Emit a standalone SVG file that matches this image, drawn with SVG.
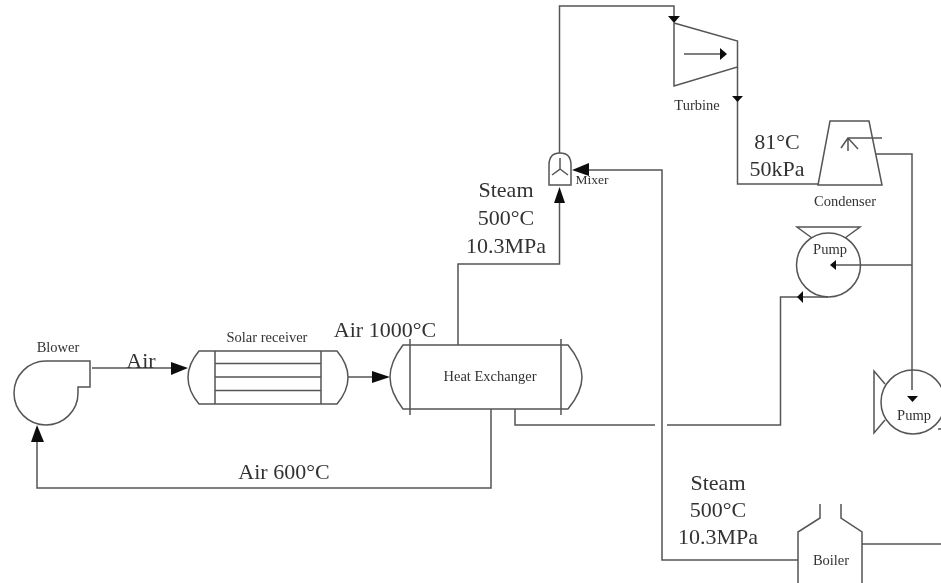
<svg xmlns="http://www.w3.org/2000/svg" width="941" height="583" viewBox="0 0 941 583">
<defs>
<style>
.s{fill:none;stroke:#555;stroke-width:1.5}
.c{fill:none;stroke:#555;stroke-width:1.5}
.t{font-family:"Liberation Serif","Times New Roman",serif;fill:#333}
.b{font-size:22px}
.m{font-size:14.500px}
.a{fill:#111;stroke:none}
</style>
<filter id="soft" x="0" y="0" width="941" height="583" filterUnits="userSpaceOnUse"><feGaussianBlur stdDeviation="0.6"/></filter>
</defs>
<rect width="941" height="583" fill="#fff"/>
<g filter="url(#soft)">
<g id="connectors">
<path class="c" d="M92 368H176"/>
<path class="a" d="M188 368L171 362V375Z"/>
<path class="c" d="M348 377H378"/>
<path class="a" d="M390 377L372 371V383Z"/>
<path class="c" d="M491 409V488H37V438"/>
<path class="a" d="M37 425L31 442H44Z"/>
<path class="c" d="M458 345V264H559.500V200"/>
<path class="a" d="M559.500 187L554 203H565Z"/>
<path class="c" d="M559.500 153V6H674V18"/>
<path class="a" d="M674 23L668 16H680Z"/>
<path class="c" d="M737.500 67V184H818"/>
<path class="a" d="M737.500 102L732 96H743Z"/>
<path class="c" d="M876 154H912V390"/>
<path class="a" d="M912.500 402L907 396H918Z"/>
<path class="c" d="M912 265H836"/>
<path class="a" d="M830 265L836 260V270Z"/>
<path class="c" d="M515 409V425H655M667 425H780.500V297H828"/>
<path class="a" d="M797 297L803 291V303Z"/>
<path class="c" d="M798 560H662V170H585"/>
<path class="a" d="M572 170L589 163V176Z"/>
<path class="c" d="M862 544H941"/>
<path class="c" d="M938 429H941"/>
</g>
<g id="blower">
<path class="s" d="M90 361H46A32 32 0 1 0 78 393V387H90Z"/>
<text class="t m" x="58" y="352" text-anchor="middle">Blower</text>
</g>
<g id="solar-receiver">
<path class="s" d="M199 351H337Q348 364 348 377.500Q348 391 337 404H199Q188 391 188 377.500Q188 364 199 351Z"/>
<path class="s" d="M215 351V404M321 351V404M215 363.500H321M215 377H321M215 390.500H321"/>
<text class="t m" x="267" y="342" text-anchor="middle">Solar receiver</text>
</g>
<g id="heat-exchanger">
<path class="s" d="M403 345H568Q582 362 582 377Q582 392 568 409H403Q390 392 390 377Q390 362 403 345Z"/>
<path class="s" d="M410 339V415M561 339V415"/>
<text class="t m" x="490" y="381" text-anchor="middle">Heat Exchanger</text>
</g>
<g id="mixer">
<path class="s" d="M549 185V165Q549 153 560 153Q571 153 571 165V185Z"/>
<path class="s" d="M560 158V169L552 175M560 169L568 175"/>
<text class="t" font-size="13.500" x="592" y="184" text-anchor="middle">Mixer</text>
</g>
<g id="turbine">
<path class="s" d="M674 23L737.500 41V67L674 86Z"/>
<path class="s" d="M684 54H722"/>
<path class="a" d="M727 54L720 48V60Z"/>
<text class="t m" x="697" y="110" text-anchor="middle">Turbine</text>
</g>
<g id="condenser">
<path class="s" d="M830 121H869L882 185H818Z"/>
<path class="s" d="M882 138H848V151M848 138L841 148M848 138L858 149"/>
<text class="t m" x="845" y="206" text-anchor="middle">Condenser</text>
</g>
<g id="pump-1">
<circle class="s" cx="828.500" cy="265" r="32"/>
<path class="s" d="M812 238L797 227H860L845 238"/>
<text class="t m" x="830" y="254" text-anchor="middle">Pump</text>
</g>
<g id="pump-2">
<circle class="s" cx="913" cy="402" r="32"/>
<path class="s" d="M885 384L874 371V433L885 420"/>
<text class="t m" x="914" y="420" text-anchor="middle">Pump</text>
</g>
<g id="boiler">
<path class="s" d="M798 583V532L820 518V504M841 504V518L862 532V583"/>
<text class="t m" x="831" y="565" text-anchor="middle">Boiler</text>
</g>
<g id="labels">
<text class="t b" x="141" y="368" text-anchor="middle">Air</text>
<text class="t b" x="385" y="337" text-anchor="middle">Air 1000°C</text>
<text class="t b" x="284" y="479" text-anchor="middle">Air 600°C</text>
<text class="t b" x="506" y="197" text-anchor="middle">Steam</text>
<text class="t b" x="506" y="225" text-anchor="middle">500°C</text>
<text class="t b" x="506" y="253" text-anchor="middle">10.3MPa</text>
<text class="t b" x="777" y="149" text-anchor="middle">81°C</text>
<text class="t b" x="777" y="176" text-anchor="middle">50kPa</text>
<text class="t b" x="718" y="490" text-anchor="middle">Steam</text>
<text class="t b" x="718" y="517" text-anchor="middle">500°C</text>
<text class="t b" x="718" y="544" text-anchor="middle">10.3MPa</text>
</g>
</g>
</svg>
